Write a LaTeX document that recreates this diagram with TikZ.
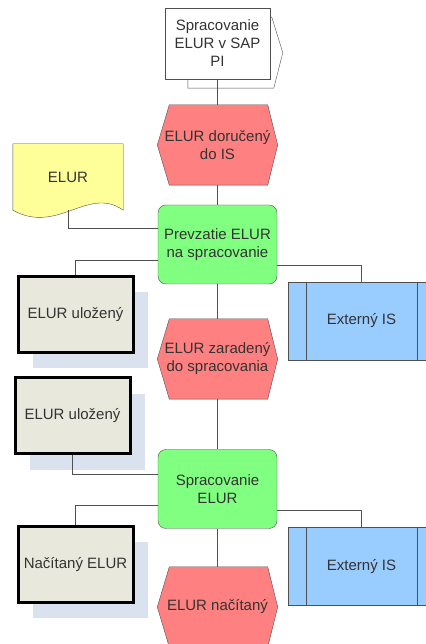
\documentclass[tikz,border=0pt]{standalone}
\usepackage{fontspec}
\setmainfont{Liberation Sans}
\usetikzlibrary{shadows, backgrounds}

\definecolor{eventred}{HTML}{FF8080}
\definecolor{funcgreen}{HTML}{80FF80}
\definecolor{docyellow}{HTML}{FFFF99}
\definecolor{storegrey}{HTML}{E8E8DC}
\definecolor{storeshadow}{HTML}{DAE2F0}
\definecolor{extblue}{HTML}{99CCFF}
\definecolor{edge}{HTML}{505050}

\begin{document}
\begin{tikzpicture}[x=1pt, y=1pt,
		font=\fontsize{15pt}{18pt}\selectfont, text=black!80,
		every node/.style={align=center, inner sep=1pt},
		event/.style={rectangle, minimum width=120pt, minimum height=80pt},
		func/.style={rectangle, rounded corners=8pt, draw=edge, fill=funcgreen, minimum width=119pt, minimum height=79pt},
		store/.style={rectangle, draw=black, line width=3pt, fill=storegrey, minimum width=115pt, minimum height=76pt, copy shadow={shadow xshift=15pt, shadow yshift=-16pt, fill=storeshadow, draw=none}},
		extsys/.style={rectangle, draw=edge, fill=extblue, minimum width=147pt, minimum height=78pt},
		link/.style={draw=edge, line width=0.8pt}]
		\useasboundingbox (0,0) rectangle (425,644);
		\node[rectangle, draw=edge, fill=white, minimum width=105pt, minimum height=71pt] (sap) at (217.5,600.5) {Spracovanie\\ELUR v SAP\\PI};
		\node[event] (ev1) at (217.5,499) {ELUR doručený\\do IS};
		\node[minimum width=110pt, minimum height=66pt] (doc) at (68,467) {ELUR};
		\node[func] (fun1) at (217.5,399.5) {Prevzatie ELUR\\na spracovanie};
		\node[store] (st1) at (75.5,329.5) {ELUR uložený};
		\node[extsys] (ext1) at (361.5,323) {Externý IS};
		\node[event] (ev2) at (217.5,285) {ELUR zaradený\\do spracovania};
		\node[store] (st2) at (72.5,228) {ELUR uložený};
		\node[func] (fun2) at (217.5,155) {Spracovanie\\ELUR};
		\node[store] (st3) at (75.5,79.5) {Načítaný ELUR};
		\node[extsys] (ext2) at (361.5,77.5) {Externý IS};
		\node[event] (ev3) at (217.5,37) {ELUR načítaný};
		\begin{scope}[on background layer]
			\draw[draw=edge, fill=white] ([shift={(23,-9)}]sap.south west) -- ([shift={(109,-9)}]sap.south west) -- ([shift={(118,26.5)}]sap.south west) -- ([shift={(107,62)}]sap.south west) -- ([shift={(23,62)}]sap.south west) -- cycle;
			\draw[draw=edge, fill=docyellow] (doc.north west) -- (doc.north east) -- (doc.south east) .. controls ([shift={(-35,25)}]doc.south east) and ([shift={(45,-25)}]doc.south west) .. (doc.south west) -- cycle;
			\foreach \e in {ev1, ev2, ev3}
				\draw[draw=edge, fill=eventred] (\e.west) -- ([xshift=12pt]\e.north west) -- ([xshift=-10pt]\e.north east) -- (\e.east) -- ([xshift=-10pt]\e.south east) -- ([xshift=12pt]\e.south west) -- cycle;
		\end{scope}
		\foreach \e in {ext1, ext2} {
			\draw[draw=edge] ([xshift=18pt]\e.north west) -- ([xshift=18pt]\e.south west);
			\draw[draw=edge] ([xshift=-18pt]\e.north east) -- ([xshift=-18pt]\e.south east);
		}
		\draw[link] (sap) -- (ev1);
		\draw[link] (ev1) -- (fun1);
		\draw[link] (fun1) -- (ev2);
		\draw[link] (ev2) -- (fun2);
		\draw[link] (fun2) -- (ev3);
		\draw[link] (doc.south) |- ([yshift=16.5pt]fun1.west);
		\draw[link] (st1.north) |- ([yshift=-15.5pt]fun1.west);
		\draw[link] (ext1.north) |- ([yshift=-20.5pt]fun1.east);
		\draw[link] (st2.south) |- ([yshift=15pt]fun2.west);
		\draw[link] (st3.north) |- ([yshift=-16pt]fun2.west);
		\draw[link] (ext2.north) |- ([yshift=-21pt]fun2.east);
	\end{tikzpicture}
\end{document}
